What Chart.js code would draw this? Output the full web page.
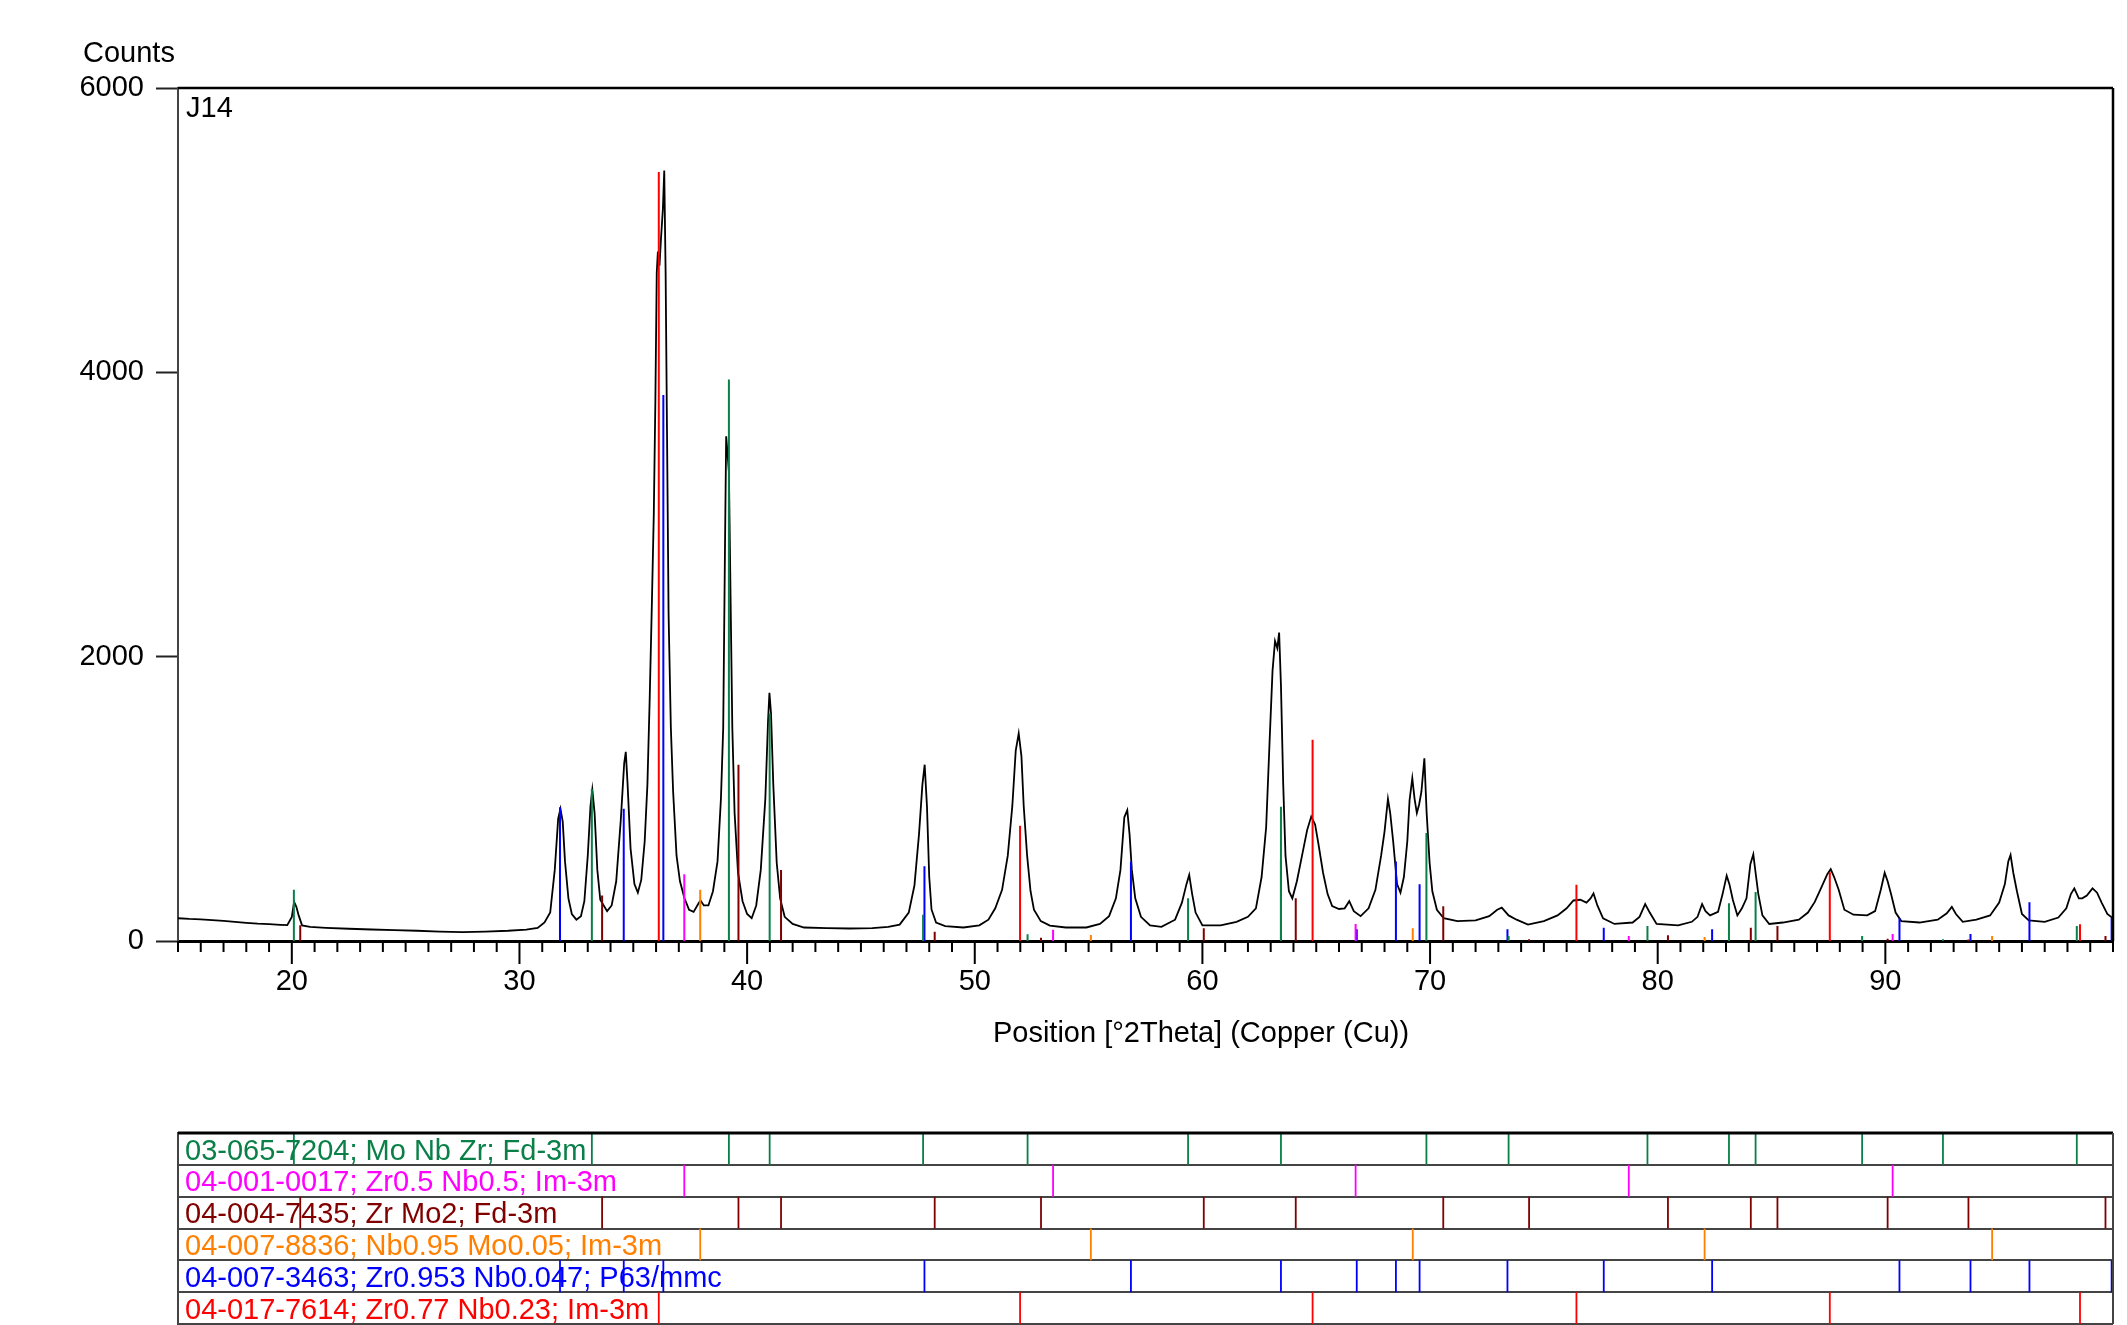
<!DOCTYPE html>
<html lang="en">
<head>
<meta charset="UTF-8">
<title>J14 - XRD pattern</title>
<script src="https://cdn.jsdelivr.net/npm/chart.js@4.4.0/dist/chart.umd.min.js"></script>
<style>
    html, body { margin: 0; padding: 0; background: #fff; }
    body { width: 2127px; height: 1325px; position: relative; overflow: hidden; }
    #scan { position: absolute; left: 0; top: 0; }
    #refs { position: absolute; left: 0; top: 1120px; }
</style>
</head>
<body>
<canvas id="scan" width="2127" height="1100"></canvas>
<canvas id="refs" width="2127" height="205"></canvas>
<script>
// measured scan J14: [2theta, counts]
const scanPoints = [
    [15.0,160],[15.5,155],[16.0,152],[16.5,147],[17.0,142],[17.5,135],[18.0,128],[18.5,122],[19.0,118],[19.5,114],
    [19.8,112],[20.0,170],[20.1,275],[20.2,240],[20.3,180],[20.45,110],[20.8,100],[21.5,93],[22.5,86],[23.5,81],
    [24.5,76],[25.5,72],[26.5,66],[27.5,62],[28.5,66],[29.5,72],[30.3,80],[30.8,92],[31.1,130],[31.35,200],
    [31.55,500],[31.7,860],[31.8,930],[31.9,840],[32.0,560],[32.15,300],[32.3,190],[32.5,150],[32.7,175],[32.85,280],
    [33.0,600],[33.12,950],[33.2,1065],[33.3,900],[33.42,500],[33.55,290],[33.7,250],[33.85,210],[34.05,250],[34.25,420],
    [34.45,850],[34.6,1250],[34.67,1330],[34.75,1100],[34.88,650],[35.05,400],[35.2,340],[35.35,430],[35.5,700],[35.62,1100],
    [35.72,1700],[35.82,2400],[35.9,3000],[35.97,3800],[36.03,4700],[36.08,4850],[36.15,4750],[36.22,4950],[36.3,5150],[36.36,5420],
    [36.42,4700],[36.48,3600],[36.55,2300],[36.65,1500],[36.75,1050],[36.9,600],[37.05,420],[37.25,300],[37.45,220],[37.65,205],
    [37.85,260],[37.95,285],[38.1,250],[38.3,250],[38.5,350],[38.7,560],[38.85,1000],[38.95,1500],[39.03,2800],[39.08,3550],
    [39.13,3450],[39.2,3300],[39.27,2450],[39.35,1500],[39.45,900],[39.6,480],[39.8,280],[40.0,190],[40.2,160],[40.4,250],
    [40.6,500],[40.8,1000],[40.92,1550],[40.98,1745],[41.05,1600],[41.15,1100],[41.3,550],[41.45,300],[41.65,170],[42.0,120],
    [42.5,95],[43.5,90],[44.5,88],[45.5,90],[46.2,100],[46.7,115],[47.1,200],[47.35,390],[47.55,750],[47.7,1100],
    [47.8,1240],[47.9,950],[48.0,450],[48.1,222],[48.3,130],[48.7,105],[49.5,95],[50.2,110],[50.6,150],[50.9,230],
    [51.2,360],[51.45,600],[51.65,950],[51.8,1340],[51.93,1460],[52.05,1300],[52.15,950],[52.3,600],[52.45,350],[52.6,220],
    [52.9,140],[53.3,108],[54.0,95],[54.9,95],[55.5,120],[55.9,175],[56.2,300],[56.4,500],[56.57,870],[56.7,920],
    [56.8,750],[56.9,500],[57.05,300],[57.3,170],[57.7,110],[58.2,100],[58.8,150],[59.1,270],[59.3,400],[59.42,465],
    [59.55,330],[59.7,200],[60.0,110],[60.8,110],[61.5,135],[62.0,170],[62.35,230],[62.6,450],[62.8,800],[62.95,1400],
    [63.08,1900],[63.19,2110],[63.29,2060],[63.37,2170],[63.45,1800],[63.55,1100],[63.65,600],[63.8,350],[63.95,300],[64.15,420],
    [64.4,620],[64.6,780],[64.78,875],[64.95,820],[65.1,680],[65.3,480],[65.5,330],[65.7,245],[66.0,225],[66.25,230],
    [66.45,280],[66.65,210],[66.95,175],[67.3,230],[67.6,360],[67.85,600],[68.0,770],[68.15,1000],[68.25,900],[68.38,700],
    [68.55,400],[68.7,340],[68.85,450],[69.0,700],[69.1,990],[69.22,1145],[69.32,1000],[69.42,900],[69.52,960],[69.62,1050],
    [69.75,1285],[69.85,900],[69.98,550],[70.1,350],[70.3,220],[70.6,160],[71.2,140],[72.0,145],[72.6,175],[72.95,220],
    [73.15,235],[73.45,180],[73.8,150],[74.3,115],[75.0,140],[75.6,180],[76.0,230],[76.3,285],[76.6,290],[76.87,270],
    [77.05,300],[77.18,335],[77.35,250],[77.6,160],[78.1,120],[78.9,130],[79.2,170],[79.45,260],[79.65,200],[79.95,120],
    [80.9,110],[81.5,135],[81.75,170],[81.95,260],[82.1,210],[82.3,180],[82.65,205],[82.85,330],[83.03,460],[83.15,400],
    [83.3,290],[83.5,180],[83.7,230],[83.9,300],[84.07,540],[84.2,610],[84.3,480],[84.42,330],[84.6,180],[84.9,120],
    [85.5,130],[86.2,150],[86.6,200],[86.9,275],[87.2,380],[87.45,470],[87.6,505],[87.75,450],[87.95,360],[88.2,220],
    [88.6,185],[89.2,180],[89.55,210],[89.8,360],[89.97,480],[90.1,420],[90.25,330],[90.45,200],[90.7,140],[91.5,130],
    [92.3,150],[92.7,195],[92.92,240],[93.1,190],[93.4,135],[94.0,150],[94.6,180],[95.0,270],[95.25,400],[95.4,560],
    [95.5,605],[95.62,480],[95.78,350],[96.0,190],[96.3,145],[97.0,135],[97.6,165],[97.95,230],[98.15,330],[98.3,370],
    [98.5,300],[98.65,300],[98.85,320],[99.1,370],[99.3,340],[99.5,270],[99.75,190],[100.0,160]
];

// reference patterns: peak positions and stick heights
const moNbZrPos = [20.09, 33.18, 39.2, 40.99, 47.73, 52.32, 59.37, 63.45, 69.84, 73.45, 79.55, 83.13, 84.3, 88.98, 92.53, 98.41];
const moNbZrInt = [360, 1070, 3950, 1600, 185, 47, 300, 945, 760, 35, 105, 265, 345, 35, 12, 105];
const zrNb50Pos = [37.24, 53.44, 66.73, 78.73, 90.32];
const zrNb50Int = [470, 80, 120, 35, 50];
const zrMo2Pos = [20.37, 33.63, 39.62, 41.49, 48.24, 52.91, 60.06, 64.1, 70.58, 74.35, 80.45, 84.09, 85.26, 90.1, 93.65, 99.67];
const zrMo2Int = [110, 320, 1240, 500, 65, 23, 90, 300, 245, 12, 40, 93, 105, 16, 10, 35];
const nbMoPos = [37.94, 55.1, 69.24, 82.06, 94.69];
const nbMoInt = [360, 42, 90, 28, 35];
const zrHexPos = [31.78, 34.58, 36.32, 47.79, 56.86, 63.45, 66.78, 68.5, 69.54, 73.4, 77.63, 82.39, 90.62, 93.74, 96.33, 99.94];
const zrHexInt = [940, 930, 3840, 525, 560, 570, 82, 560, 400, 82, 93, 82, 160, 49, 273, 161];
const zrNb77Pos = [36.12, 51.99, 64.84, 76.43, 87.56, 98.55];
const zrNb77Int = [5410, 810, 1415, 395, 483, 117];

const phaseNames = [
    '03-065-7204; Mo Nb Zr; Fd-3m',
    '04-001-0017; Zr0.5 Nb0.5; Im-3m',
    '04-004-7435; Zr Mo2; Fd-3m',
    '04-007-8836; Nb0.95 Mo0.05; Im-3m',
    '04-007-3463; Zr0.953 Nb0.047; P63/mmc',
    '04-017-7614; Zr0.77 Nb0.23; Im-3m'
];
const phasePos = [moNbZrPos, zrNb50Pos, zrMo2Pos, nbMoPos, zrHexPos, zrNb77Pos];
const phaseInt = [moNbZrInt, zrNb50Int, zrMo2Int, nbMoInt, zrHexInt, zrNb77Int];
const phaseColors = ['#0a8048', '#ff00ff', '#800000', '#ff8000', '#0000ff', '#ff0000'];

const xTickLabels = [20, 30, 40, 50, 60, 70, 80, 90];
const yTickLabels = [0, 2000, 4000, 6000];

const FONT = '"Liberation Sans", Arial, sans-serif';
Chart.defaults.font.family = FONT;
Chart.defaults.font.size = 29;
Chart.defaults.color = '#000';

// vertical sticks from the baseline, broken by null points
function sticks(pos, h) {
    const pts = [];
    pos.forEach((p, i) => { pts.push({x: p, y: 0}, {x: p, y: h[i]}, {x: p, y: null}); });
    return pts;
}
function rowSticks(pos, row) {
    const pts = [];
    pos.forEach(p => { pts.push({x: p, y: row}, {x: p, y: row + 1}, {x: p, y: null}); });
    return pts;
}

const scanFrame = {
    id: 'scanFrame',
    afterDraw(chart) {
        const {ctx, chartArea: a, scales: {x}} = chart;
        ctx.save();
        ctx.strokeStyle = '#000';
        ctx.lineWidth = 2.5;
        ctx.beginPath();
        ctx.moveTo(a.left, a.top); ctx.lineTo(a.right, a.top);
        ctx.moveTo(a.right, a.top); ctx.lineTo(a.right, a.bottom);
        ctx.stroke();
        // minor ticks every degree, long ticks at the labelled ones
        ctx.lineWidth = 2;
        ctx.beginPath();
        for (let v = Math.ceil(x.min); v <= x.max; v++) {
            const px = x.getPixelForValue(v);
            const len = xTickLabels.includes(v) ? 23 : 11;
            ctx.moveTo(px, a.bottom); ctx.lineTo(px, a.bottom + len);
        }
        ctx.stroke();
        ctx.fillStyle = '#000';
        ctx.font = '29px ' + FONT;
        ctx.textBaseline = 'alphabetic';
        ctx.textAlign = 'left';
        ctx.fillText('Counts', 83, 62);
        ctx.fillText('J14', a.left + 8, a.top + 29);
        ctx.textAlign = 'center';
        ctx.fillText('Position [°2Theta] (Copper (Cu))', 1201, 1042);
        ctx.restore();
    }
};

const stickSets = phasePos.map((pos, i) => ({
    data: sticks(pos, phaseInt[i]),
    borderColor: phaseColors[i],
    borderWidth: 2,
    pointRadius: 0,
    spanGaps: false,
    order: i
}));

new Chart(document.getElementById('scan'), {
    type: 'line',
    data: {
        datasets: [{
            data: scanPoints.map(p => ({x: p[0], y: p[1]})),
            borderColor: '#000',
            borderWidth: 1.8,
            pointRadius: 0,
            tension: 0,
            order: 10
        }, ...stickSets]
    },
    options: {
        responsive: false,
        animation: false,
        layout: {padding: {top: 88, right: 14, bottom: 0, left: 0}},
        plugins: {legend: {display: false}, tooltip: {enabled: false}},
        scales: {
            x: {
                type: 'linear',
                min: 15,
                max: 100,
                grid: {display: false, drawTicks: false},
                border: {display: true, color: '#000', width: 3},
                ticks: {
                    stepSize: 1,
                    autoSkip: false,
                    maxRotation: 0,
                    padding: 24,
                    callback: v => xTickLabels.includes(v) ? String(v) : ''
                },
                afterFit: s => { s.height = 159; s.paddingLeft = 0; s.paddingRight = 0; }
            },
            y: {
                type: 'linear',
                min: 0,
                max: 6000,
                grid: {drawOnChartArea: false, drawTicks: true, tickLength: 22, tickWidth: 2, tickColor: '#222'},
                border: {display: true, color: '#444', width: 2},
                ticks: {
                    stepSize: 2000,
                    padding: 12,
                    callback: v => yTickLabels.includes(v) ? String(v) : ''
                },
                afterFit: s => { s.width = 178; }
            }
        }
    },
    plugins: [scanFrame]
});

// reference panel below the scan
const refLabels = {
    id: 'refLabels',
    beforeDatasetsDraw(chart) {
        const {ctx, chartArea: a, scales: {y}} = chart;
        ctx.save();
        ctx.font = '29px ' + FONT;
        ctx.textBaseline = 'alphabetic';
        ctx.textAlign = 'left';
        phaseNames.forEach((name, i) => {
            ctx.fillStyle = phaseColors[i];
            ctx.fillText(name, a.left + 7, y.getPixelForValue(i) + 26.5);
        });
        ctx.restore();
    },
    afterDraw(chart) {
        const {ctx, chartArea: a} = chart;
        ctx.save();
        ctx.strokeStyle = '#000';
        ctx.lineWidth = 3;
        ctx.beginPath();
        ctx.moveTo(a.left, a.top); ctx.lineTo(a.right, a.top);
        ctx.stroke();
        ctx.strokeStyle = '#444';
        ctx.lineWidth = 2;
        ctx.beginPath();
        ctx.moveTo(a.right, a.top); ctx.lineTo(a.right, a.bottom);
        ctx.stroke();
        ctx.restore();
    }
};

new Chart(document.getElementById('refs'), {
    type: 'line',
    data: {
        datasets: phasePos.map((pos, i) => ({
            data: rowSticks(pos, i),
            borderColor: phaseColors[i],
            borderWidth: 1.8,
            pointRadius: 0,
            spanGaps: false
        }))
    },
    options: {
        responsive: false,
        animation: false,
        layout: {padding: {top: 13, right: 14, bottom: 1, left: 0}},
        plugins: {legend: {display: false}, tooltip: {enabled: false}},
        scales: {
            x: {type: 'linear', min: 15, max: 100, display: false},
            y: {
                type: 'linear',
                min: 0,
                max: phaseNames.length,
                reverse: true,
                ticks: {display: false, stepSize: 1},
                grid: {color: '#444', lineWidth: 2, drawTicks: false},
                border: {display: true, color: '#444', width: 2},
                afterFit: s => { s.width = 178; }
            }
        }
    },
    plugins: [refLabels]
});
</script>
</body>
</html>
